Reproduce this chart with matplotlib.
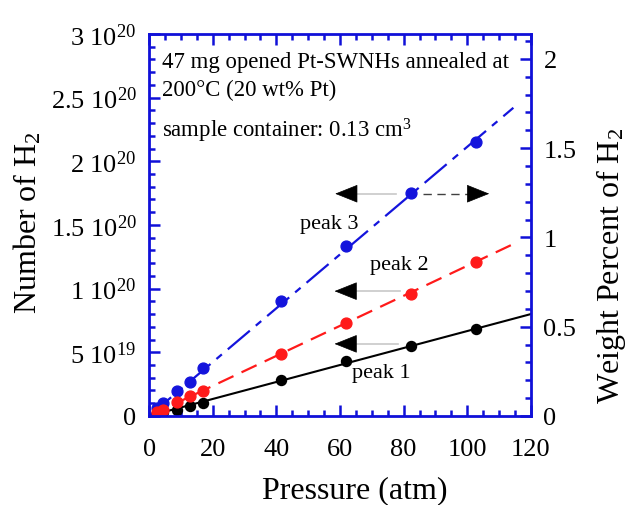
"""
Number of H2 vs pressure for Pt-SWNHs, three desorption peaks
"""

import numpy as np
import matplotlib.pyplot as plt
from matplotlib.ticker import MultipleLocator

# Data, number of H2 in units of 1e20
pressure = [2.5, 4.5, 8.9, 12.9, 17.0, 41.5, 62.0, 82.3, 102.8]
peak1 = [0.02, 0.03, 0.045, 0.08, 0.10, 0.28, 0.43, 0.55, 0.68]
peak2 = [0.03, 0.05, 0.11, 0.16, 0.195, 0.49, 0.73, 0.96, 1.21]
peak3 = [0.06, 0.10, 0.195, 0.27, 0.375, 0.905, 1.335, 1.75, 2.15]

# Linear fits through the origin
fit1_x = [0, 120]
fit1_y = [0, 0.80]
fit23_x = [0, 114.5]
fit2_y = [0, 1.35]
fit3_y = [0, 2.42]

y_ticks = [0, 0.5, 1, 1.5, 2, 2.5, 3]
y_tick_labels = ["0", "5 10$^{19}$", "1 10$^{20}$", "1.5 10$^{20}$",
                 "2 10$^{20}$", "2.5 10$^{20}$", "3 10$^{20}$"]
wt_ticks = [0, 0.5, 1, 1.5, 2]
wt_tick_labels = ["0", "0.5", "1", "1.5", "2"]
x_ticks = [0, 20, 40, 60, 80, 100, 120]

# 1 wt% of H2 corresponds to 1.402e20 molecules
wt_per_1e20 = 1 / 1.402

# Arrows: (tip x, start x, y)
left_arrows = [(58.5, 77.5, 1.745), (58.3, 79.0, 0.98), (58.3, 78.3, 0.566)]
right_arrow = (86.2, 106.9, 1.745)

plt.rcParams["font.family"] = "Liberation Serif"
plt.rcParams["mathtext.fontset"] = "custom"
plt.rcParams["mathtext.rm"] = "Liberation Serif"
plt.rcParams["mathtext.it"] = "Liberation Serif:italic"
plt.rcParams["font.size"] = 18

blue = "#1010d8"

fig = plt.figure(figsize=(6.29, 5.06), dpi=100)
ax = fig.add_axes([0.237, 0.176, 0.607, 0.755])

scale = 1e20
ax.plot(fit1_x, np.array(fit1_y) * scale, color="black", lw=1.5)
ax.plot(fit23_x, np.array(fit2_y) * scale, color="#ff1a1a", lw=1.6,
        dashes=(7.5, 4))
ax.plot(fit23_x, np.array(fit3_y) * scale, color="#1414dc", lw=1.6,
        dashes=(13, 3.5, 3.2, 3.5))

ax.plot(pressure, np.array(peak3) * scale, "o", color="#1414dc", ms=7.8)
ax.plot(pressure, np.array(peak1) * scale, "o", color="black", ms=7.2)
ax.plot(pressure, np.array(peak2) * scale, "o", color="#ff1a1a", ms=7.8)

# Arrows pointing to the left axis
head = 6.3
for tip, start, y in left_arrows:
    ax.plot([tip + head, start], [y * scale, y * scale], color="#c8c8c8", lw=1.2)
    ax.annotate("", xy=(tip, y * scale), xytext=(tip + head, y * scale),
                arrowprops=dict(arrowstyle="-|>,head_length=0.75,head_width=0.3",
                                fc="black", ec="black", lw=0.5,
                                shrinkA=0, shrinkB=0, mutation_scale=20))

# Arrow pointing to the right axis
start, tip, y = right_arrow
ax.plot([start, tip - head], [y * scale, y * scale], color="#404040", lw=1.0,
        dashes=(6, 4))
ax.annotate("", xy=(tip, y * scale), xytext=(tip - head, y * scale),
            arrowprops=dict(arrowstyle="-|>,head_length=0.75,head_width=0.3",
                            fc="black", ec="black", lw=0.5,
                            shrinkA=0, shrinkB=0, mutation_scale=20))

ax.text(56.6, 1.51 * scale, "peak 3", ha="center", va="center", fontsize=16)
ax.text(78.6, 1.19 * scale, "peak 2", ha="center", va="center", fontsize=16)
ax.text(73.1, 0.345 * scale, "peak 1", ha="center", va="center", fontsize=16)

ax.text(4.2, 2.78 * scale, "47 mg opened Pt-SWNHs annealed at", fontsize=16.4,
        va="center")
ax.text(4.2, 2.565 * scale, "200°C (20 wt% Pt)", fontsize=16.4, va="center")
ax.text(4.2, 2.25 * scale, "sample container: 0.13 cm$^3$", fontsize=16.4,
        va="center")

ax.set_xlim(0, 120)
ax.set_ylim(0, 3 * scale)
ax.set_xticks(x_ticks)
ax.xaxis.set_minor_locator(MultipleLocator(5))
ax.set_yticks([t * scale for t in y_ticks])
ax.set_yticklabels(y_tick_labels)
ax.yaxis.set_minor_locator(MultipleLocator(0.1 * scale))
ax.set_xlabel("Pressure (atm)", fontsize=23)
ax.set_ylabel("Number of H$_2$", fontsize=23)
ax.xaxis.set_label_coords(0.538, -0.155)
ax.yaxis.set_label_coords(-0.277, 0.51)

for spine in ax.spines.values():
    spine.set_color(blue)
    spine.set_linewidth(2)

ax.tick_params(which="both", direction="in", color=blue, top=True, width=1.8,
               labelsize=19)
ax.tick_params(which="major", length=8)
ax.tick_params(which="minor", length=4.5)
ax.tick_params(axis="x", which="major", pad=16)
ax.tick_params(axis="y", which="major", pad=9)

ax2 = ax.twinx()
ax2.set_ylim(0, 3 * wt_per_1e20)
ax2.set_yticks(wt_ticks)
ax2.set_yticklabels(wt_tick_labels)
ax2.yaxis.set_minor_locator(MultipleLocator(0.1))
ax2.set_ylabel("Weight Percent of H$_2$", fontsize=23)
ax2.yaxis.set_label_coords(1.166, 0.395)
for spine in ax2.spines.values():
    spine.set_visible(False)
ax2.tick_params(which="both", direction="in", color=blue, width=1.8,
                labelsize=19)
ax2.tick_params(which="major", length=8, pad=9)
ax2.tick_params(which="minor", length=4.5)
ax.tick_params(axis="y", which="both", right=False)

plt.savefig("out.png", dpi=100)
plt.close()
